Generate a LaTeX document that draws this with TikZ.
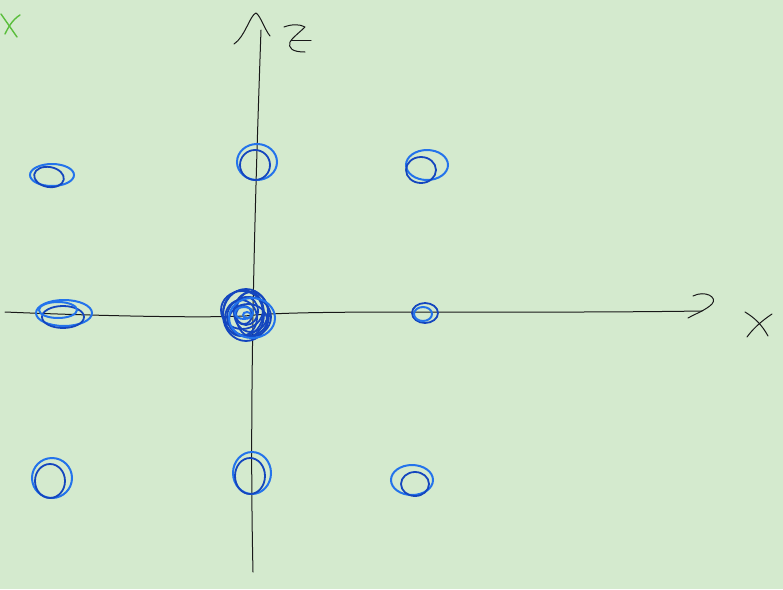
\documentclass[tikz,border=0pt]{standalone}
\definecolor{bg}{RGB}{212,234,206}
\definecolor{ink}{RGB}{25,25,25}
\definecolor{blueA}{RGB}{35,115,235}
\definecolor{blueB}{RGB}{20,70,190}
\definecolor{grn}{RGB}{90,190,60}
\begin{document}
\begin{tikzpicture}[x=1pt,y=-1pt,
  axis/.style={ink,line width=1pt,line cap=round,line join=round},
  scrA/.style={blueA,line width=2pt},
  scrB/.style={blueB,line width=1.8pt},
  greenmark/.style={grn,line width=1.4pt,line cap=round}]
\fill[bg] (0,0) rectangle (783,589);
\useasboundingbox (0,0) rectangle (783,589);

% vertical axis
\draw[axis] (261,30) .. controls (255,200) and (249,400) .. (253,572);
\draw[axis] (234,44) .. controls (245,37) and (250,15) .. (256,13) .. controls (260,15) and (265,30) .. (270,36);
% horizontal axis
\draw[axis] (5,312) .. controls (100,316) and (200,318) .. (245,316) .. controls (300,309) and (500,314) .. (702,311);
\draw[axis] (693,296) .. controls (705,290) and (718,297) .. (712,304) .. controls (706,310) and (695,314) .. (688,318);

% Z label
\draw[axis] (284,27) .. controls (292,24) and (300,24) .. (305,27) .. controls (300,32) and (292,38) .. (290,42) .. controls (288,48) and (292,52) .. (305,52);
\draw[axis] (291,40) -- (311,40);
% X label
\draw[axis] (745,312) .. controls (755,318) and (762,325) .. (768,336);
\draw[axis] (772,314) .. controls (760,322) and (752,330) .. (747,337);
% green mark
\draw[greenmark] (1,14) -- (17,37);
\draw[greenmark] (20,15) .. controls (12,20) and (8,28) .. (5,34);

% scribbles
\coordinate (b1) at (52,175);
\coordinate (b2) at (257,162);
\coordinate (b3) at (425,167);
\coordinate (b4) at (63,313);
\coordinate (b5) at (246,315);
\coordinate (b6) at (425,313);
\coordinate (b7) at (52,478);
\coordinate (b8) at (252,473);
\coordinate (b9) at (412,481);

\draw[scrA] (b1) ellipse [x radius=22pt, y radius=11pt];
\draw[scrB] ([xshift=-3pt,yshift=-2pt]b1) ellipse [x radius=15pt, y radius=10pt, rotate=-10];

\draw[scrA] (b2) ellipse [x radius=20pt, y radius=18pt];
\draw[scrB] ([xshift=-2pt,yshift=-3pt]b2) ellipse [x radius=15pt, y radius=15pt];

\draw[scrA] ([xshift=2pt,yshift=2pt]b3) ellipse [x radius=21pt, y radius=15pt];
\draw[scrB] ([xshift=-4pt,yshift=-3pt]b3) ellipse [x radius=15pt, y radius=13pt];

\draw[scrA] ([xshift=1pt]b4) ellipse [x radius=28pt, y radius=13pt];
\draw[scrB] ([yshift=-4pt]b4) ellipse [x radius=21pt, y radius=11pt];
\draw[scrA] ([xshift=-5pt,yshift=3pt]b4) ellipse [x radius=19pt, y radius=8pt];

\foreach \dx/\dy/\r/\s in {0/0/23/26, -3/2/20/23, 3/-2/22/20, -5/-3/16/18, 5/3/17/20, 0/4/12/14, 2/-5/19/16, -2/0/8/9, -4/5/21/19, 4/1/14/22}{
  \draw[scrB] ([xshift=\dx pt,yshift=\dy pt]b5) ellipse [x radius=\r pt, y radius=\s pt];
}
\draw[scrA] ([xshift=6pt,yshift=-3pt]b5) ellipse [x radius=23pt, y radius=20pt];
\draw[scrA] ([xshift=-2pt,yshift=2pt]b5) ellipse [x radius=9pt, y radius=6pt];
\draw[scrA] ([xshift=1pt,yshift=0pt]b5) ellipse [x radius=4pt, y radius=3pt];

\draw[scrB] (b6) ellipse [x radius=13pt, y radius=10pt];
\draw[scrA] ([xshift=-2pt,yshift=-1pt]b6) ellipse [x radius=9pt, y radius=7pt];

\draw[scrA] (b7) ellipse [x radius=20pt, y radius=20pt];
\draw[scrB] ([xshift=-2pt,yshift=-3pt]b7) ellipse [x radius=15pt, y radius=17pt];

\draw[scrA] (b8) ellipse [x radius=19pt, y radius=21pt];
\draw[scrB] ([xshift=-2pt,yshift=-3pt]b8) ellipse [x radius=15pt, y radius=18pt];

\draw[scrA] ([yshift=1pt]b9) ellipse [x radius=21pt, y radius=15pt];
\draw[scrB] ([xshift=3pt,yshift=-3pt]b9) ellipse [x radius=14pt, y radius=12pt];
\end{tikzpicture}
\end{document}
